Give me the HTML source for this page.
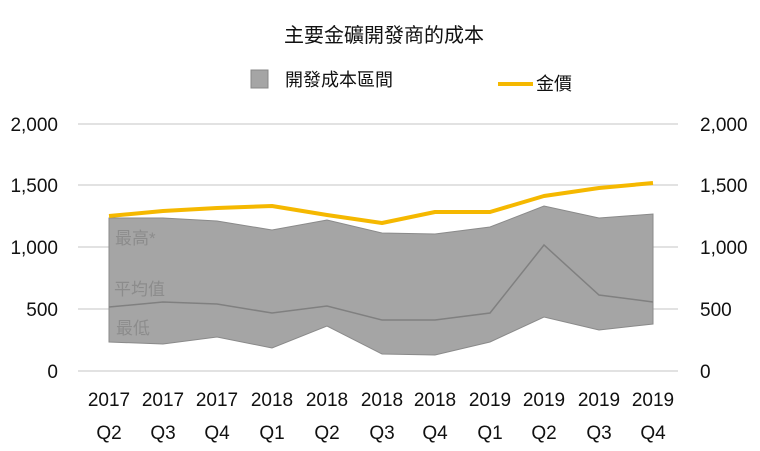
<!DOCTYPE html>
<html><head><meta charset="utf-8"><style>
body{margin:0;background:#fff;}
svg text{font-family:"Liberation Sans","Noto Sans CJK TC",sans-serif;}
</style></head><body>
<svg width="760" height="446" viewBox="0 0 760 446" xmlns="http://www.w3.org/2000/svg">
<rect width="760" height="446" fill="#fff"/>
<text x="384" y="42" font-size="20" text-anchor="middle" fill="#111">主要金礦開發商的成本</text>
<rect x="251" y="70" width="17" height="18" fill="#a5a5a5" stroke="#888" stroke-width="1"/>
<text x="285" y="86" font-size="18" fill="#111">開發成本區間</text>
<line x1="498" y1="84" x2="533" y2="84" stroke="#f5b800" stroke-width="4"/>
<text x="536" y="90" font-size="18" fill="#111">金價</text>
<g stroke="#d9d9d9" stroke-width="1.5">
<line x1="78" y1="124" x2="678" y2="124"/>
<line x1="78" y1="185" x2="678" y2="185"/>
<line x1="78" y1="247" x2="678" y2="247"/>
<line x1="78" y1="309" x2="678" y2="309"/>
<line x1="78" y1="371" x2="678" y2="371"/>
</g>
<g font-size="19" fill="#111">
<g text-anchor="end">
<text x="58" y="131">2,000</text><text x="58" y="192">1,500</text><text x="58" y="254">1,000</text><text x="58" y="316">500</text><text x="58" y="378">0</text>
</g>
<text x="700" y="131">2,000</text><text x="700" y="192">1,500</text><text x="700" y="254">1,000</text><text x="700" y="316">500</text><text x="700" y="378">0</text>
</g>
<polygon fill="#a5a5a5" stroke="#8a8a8a" stroke-width="1" points="109,218 163,218 217,221 272,230 327,220 382,233 435,234 490,227 544,206 599,218 653,214 653,324 599,330 544,317 490,342 435,355 382,354 327,326 272,348 217,337 163,344 109,342"/>
<polyline fill="none" stroke="#808080" stroke-width="1.5" points="109,307 163,302 217,304 272,313 327,306 382,320 435,320 490,313 544,245 599,295 653,302"/>
<polyline fill="none" stroke="#f5b800" stroke-width="4" stroke-linejoin="round" points="109,216 163,211 217,208 272,206 327,215 382,223 435,212 490,212 544,196 599,188 653,183"/>
<g font-size="17" fill="#8c8c8c">
<text x="115" y="244">最高*</text>
<text x="114" y="295">平均值</text>
<text x="116" y="334">最低</text>
</g>
<g font-size="19" fill="#111" text-anchor="middle">
<text x="109" y="406">2017</text><text x="163" y="406">2017</text><text x="217" y="406">2017</text><text x="272" y="406">2018</text><text x="327" y="406">2018</text><text x="382" y="406">2018</text><text x="435" y="406">2018</text><text x="490" y="406">2019</text><text x="544" y="406">2019</text><text x="599" y="406">2019</text><text x="653" y="406">2019</text>
<text x="109" y="439">Q2</text><text x="163" y="439">Q3</text><text x="217" y="439">Q4</text><text x="272" y="439">Q1</text><text x="327" y="439">Q2</text><text x="382" y="439">Q3</text><text x="435" y="439">Q4</text><text x="490" y="439">Q1</text><text x="544" y="439">Q2</text><text x="599" y="439">Q3</text><text x="653" y="439">Q4</text>
</g>
</svg>
</body></html>
